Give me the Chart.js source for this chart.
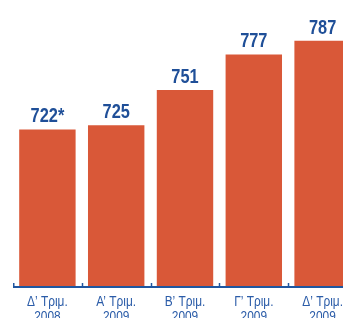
<!DOCTYPE html>
<html><head><meta charset="utf-8">
<script src="https://cdn.jsdelivr.net/npm/chart.js@4/dist/chart.umd.min.js"></script>
<style>
html,body{margin:0;padding:0;background:#fff;overflow:hidden;width:343px;height:318px;}
#wrap{position:absolute;left:0;top:0;width:357px;height:340px;}
</style></head>
<body>
<div id="wrap"><canvas id="c"></canvas></div>
<script>
const categories = [["Δ’ Τριμ.","2008"],["Α’ Τριμ.","2009"],["Β’ Τριμ.","2009"],["Γ’ Τριμ.","2009"],["Δ’ Τριμ.","2009"]];
const values = [722, 725, 751, 777, 787];
const valueLabels = ["722*", "725", "751", "777", "787"];
const yMin = 607, yMax = 817;

const FONT = "'Liberation Sans',Arial,sans-serif";
const BLUE = '#1f4f98';
const AXIS = '#1f56a0';

function narrowText(ctx, text, x, y, sx) {
  ctx.save();
  ctx.translate(x, y);
  ctx.scale(sx, 1);
  ctx.fillText(text, 0, 0);
  ctx.restore();
}

const valueLabelPlugin = {
  id: 'valueLabels',
  afterDatasetsDraw(chart) {
    const ctx = chart.ctx;
    const meta = chart.getDatasetMeta(0);
    ctx.save();
    ctx.font = "bold 21px " + FONT;
    ctx.fillStyle = BLUE;
    ctx.textAlign = 'center';
    ctx.textBaseline = 'alphabetic';
    meta.data.forEach((bar, i) => {
      narrowText(ctx, valueLabels[i], bar.x, bar.y - 7, 0.78);
    });
    ctx.restore();
  }
};

const axisPlugin = {
  id: 'axisDeco',
  afterDraw(chart) {
    const x = chart.scales.x;
    const ctx = chart.ctx;
    const base = chart.chartArea.bottom;
    ctx.save();
    ctx.strokeStyle = AXIS;
    // axis line
    ctx.lineWidth = 2;
    ctx.beginPath();
    ctx.moveTo(x.left, base + 1);
    ctx.lineTo(x.right, base + 1);
    ctx.stroke();
    // small upward ticks at category boundaries
    ctx.lineWidth = 1.5;
    for (let i = 0; i < categories.length; i++) {
      const p = i === 0 ? x.left + 0.75 : Math.round((x.getPixelForValue(i) + x.getPixelForValue(i - 1)) / 2) + 0.5;
      ctx.beginPath();
      ctx.moveTo(p, base + 1);
      ctx.lineTo(p, base - 3);
      ctx.stroke();
    }
    ctx.font = "14px " + FONT;
    ctx.fillStyle = '#2b5ca8';
    ctx.textAlign = 'center';
    ctx.textBaseline = 'alphabetic';
    categories.forEach((lines, i) => {
      const cx = x.getPixelForValue(i);
      lines.forEach((t, j) => narrowText(ctx, t, cx, base + 20 + j * 15, 0.85));
    });
    ctx.restore();
  }
};

new Chart(document.getElementById('c'), {
  type: 'bar',
  data: {
    labels: categories,
    datasets: [{
      data: values,
      backgroundColor: '#d95838',
      borderWidth: 0,
      categoryPercentage: 1.0,
      barPercentage: 0.82
    }]
  },
  options: {
    responsive: true,
    maintainAspectRatio: false,
    animation: false,
    layout: { padding: { left: 13, right: 0, top: 0, bottom: 54 } },
    plugins: { legend: { display: false }, tooltip: { enabled: false } },
    scales: {
      x: {
        grid: { display: false, drawTicks: false },
        border: { display: false },
        ticks: { display: false }
      },
      y: {
        display: false,
        min: yMin,
        max: yMax
      }
    }
  },
  plugins: [valueLabelPlugin, axisPlugin]
});
</script>
</body></html>
